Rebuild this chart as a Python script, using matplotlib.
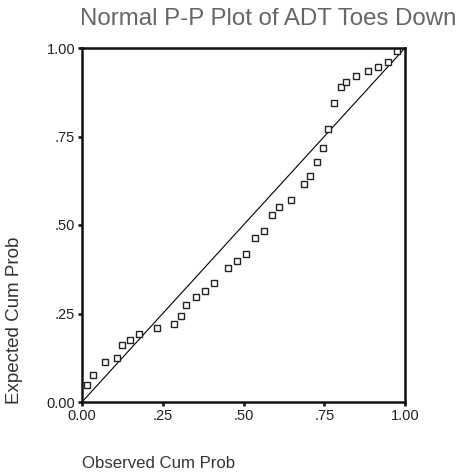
import matplotlib
matplotlib.use("Agg")
import matplotlib.pyplot as plt

plt.rcParams['font.family'] = ['Liberation Sans', 'DejaVu Sans']

# Observed vs. expected cumulative probabilities
observed_cum = [0.015, 0.034, 0.070, 0.108, 0.124, 0.148, 0.176, 0.233, 0.286,
                0.305, 0.321, 0.353, 0.381, 0.410, 0.451, 0.479, 0.507, 0.536,
                0.564, 0.588, 0.611, 0.647, 0.687, 0.705, 0.727, 0.745, 0.762,
                0.780, 0.801, 0.818, 0.847, 0.886, 0.917, 0.946, 0.974]
expected_cum = [0.048, 0.076, 0.114, 0.124, 0.161, 0.176, 0.191, 0.208, 0.221,
                0.242, 0.274, 0.296, 0.314, 0.335, 0.378, 0.397, 0.418, 0.464,
                0.484, 0.527, 0.550, 0.572, 0.616, 0.638, 0.679, 0.717, 0.770,
                0.844, 0.891, 0.903, 0.922, 0.935, 0.945, 0.961, 0.991]

tick_values = [0.0, 0.25, 0.5, 0.75, 1.0]
tick_labels = ["0.00", ".25", ".50", ".75", "1.00"]

fig = plt.figure(figsize=(4.58, 4.75), dpi=100)
ax = fig.add_axes([82 / 458, 1 - 402 / 475, 323 / 458, 354 / 475])

ax.plot([0, 1], [0, 1], color="black", linewidth=0.8)
ax.plot(observed_cum, expected_cum, linestyle="none", marker="s",
        markersize=4.3, markerfacecolor="white", markeredgecolor="#222222",
        markeredgewidth=1.0)

ax.set_xlim(0, 1)
ax.set_ylim(0, 1)
ax.set_xticks(tick_values)
ax.set_xticklabels(tick_labels)
ax.set_yticks(tick_values)
ax.set_yticklabels(tick_labels)
ax.tick_params(direction="out", length=3, width=2, labelsize=10.5,
               colors="#222222", pad=2)
for spine in ax.spines.values():
    spine.set_linewidth(1.8)
    spine.set_color("#111111")

fig.text(268 / 458, 1 - 19 / 475, "Normal P-P Plot of ADT Toes Down",
         ha="center", va="center", fontsize=17.3, color="#666666")
fig.text(15 / 458, 1 - 320 / 475, "Expected Cum Prob", rotation=90,
         ha="center", va="center", fontsize=13.5, color="#333333")
fig.text(82 / 458, 1 - 463 / 475, "Observed Cum Prob",
         ha="left", va="center", fontsize=12.1, color="#333333")

fig.savefig("out.png", dpi=100)
